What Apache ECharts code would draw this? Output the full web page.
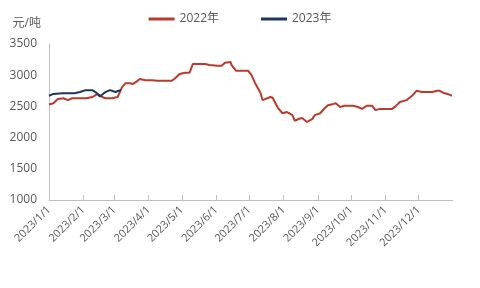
<!DOCTYPE html>
<html>
<head>
<meta charset="utf-8">
<script src="https://cdn.jsdelivr.net/npm/echarts@6/dist/echarts.min.js"></script>
<style>
  html, body { margin: 0; padding: 0; background: #fff; }
  #chart { width: 480px; height: 288px; }
</style>
</head>
<body>
<div id="chart"></div>
<script>
// 2022年 价格（按2023年日期对齐绘制）
const dates2022 = [
  '2023-01-01', '2023-01-05', '2023-01-09', '2023-01-14', '2023-01-18', '2023-01-22', '2023-01-27',
  '2023-02-04', '2023-02-09', '2023-02-14', '2023-02-18', '2023-02-21', '2023-02-27',
  '2023-03-04', '2023-03-08', '2023-03-11', '2023-03-15', '2023-03-18', '2023-03-22', '2023-03-24', '2023-03-29',
  '2023-04-04', '2023-04-09', '2023-04-22', '2023-04-25', '2023-04-29',
  '2023-05-04', '2023-05-08', '2023-05-11', '2023-05-22', '2023-05-26',
  '2023-06-02', '2023-06-06', '2023-06-09', '2023-06-14', '2023-06-15', '2023-06-19', '2023-06-30',
  '2023-07-03', '2023-07-06', '2023-07-11', '2023-07-13', '2023-07-20', '2023-07-22', '2023-07-27', '2023-07-31',
  '2023-08-04', '2023-08-09', '2023-08-11', '2023-08-16', '2023-08-18', '2023-08-22', '2023-08-27', '2023-08-29',
  '2023-09-03', '2023-09-07', '2023-09-10', '2023-09-15', '2023-09-17', '2023-09-21', '2023-09-25',
  '2023-10-03', '2023-10-07', '2023-10-11', '2023-10-15', '2023-10-20', '2023-10-23', '2023-10-27',
  '2023-11-07', '2023-11-10', '2023-11-14', '2023-11-20', '2023-11-25', '2023-11-29',
  '2023-12-04', '2023-12-13', '2023-12-18', '2023-12-20', '2023-12-23', '2023-12-27', '2023-12-31'
]
const values2022 = [
  2530, 2550, 2620, 2630, 2600, 2630, 2630,
  2630, 2650, 2700, 2650, 2630, 2630,
  2650, 2810, 2870, 2870, 2860, 2910, 2940, 2920,
  2920, 2910, 2910, 2950, 3020,
  3040, 3040, 3180, 3180, 3165,
  3150, 3150, 3200, 3210, 3160, 3070, 3070,
  3000, 2880, 2720, 2600, 2650, 2640, 2470, 2390,
  2410, 2360, 2270, 2310, 2310, 2250, 2300, 2360,
  2390, 2470, 2520, 2540, 2550, 2490, 2510,
  2510, 2490, 2460, 2510, 2510, 2440, 2460,
  2460, 2500, 2570, 2600, 2670, 2750,
  2730, 2730, 2750, 2750, 2720, 2700, 2670
]

// 2023年 价格
const dates2023 = [
  '2023-01-01', '2023-01-05', '2023-01-13', '2023-01-24', '2023-01-29',
  '2023-02-03', '2023-02-09', '2023-02-12', '2023-02-16', '2023-02-21', '2023-02-25',
  '2023-03-02', '2023-03-05', '2023-03-07'
]
const values2023 = [
  2670, 2700, 2710, 2710, 2730,
  2760, 2760, 2730, 2660, 2730, 2760,
  2730, 2750, 2760
]

const seriesNames = ['2022年', '2023年']
const yTicks = { min: 1000, max: 3500, interval: 500 }

const chart = echarts.init(document.getElementById('chart'))
const font = 'Open Sans, Noto Sans CJK SC, sans-serif'
const textColor = '#595959'

const zip = (ds, vs) => ds.map((d, i) => [d, vs[i]])

chart.setOption({
  animation: false,
  color: ['#BA3A2E', '#1B365D'],
  textStyle: { fontFamily: font },
  grid: { left: 49, right: 27, top: 44, bottom: 88 },
  legend: {
    top: 8,
    left: 'center',
    itemWidth: 26,
    itemHeight: 3,
    itemGap: 42,
    icon: 'rect',
    textStyle: { color: textColor, fontSize: 12, fontFamily: font },
    data: seriesNames
  },
  xAxis: {
    type: 'time',
    min: '2023-01-01',
    max: '2024-01-01',
    minInterval: 28 * 86400000,
    maxInterval: 31 * 86400000,
    axisLine: { lineStyle: { color: '#bfbfbf' } },
    axisTick: { show: true, inside: true, length: 5, lineStyle: { color: '#bfbfbf' } },
    splitLine: { show: false },
    axisLabel: {
      rotate: 45,
      fontSize: 11,
      color: textColor,
      margin: 8,
      fontFamily: font,
      formatter: function (value) {
        const d = new Date(value)
        if (d.getFullYear() > 2023) return ''
        return d.getFullYear() + '/' + (d.getMonth() + 1) + '/' + d.getDate()
      }
    }
  },
  yAxis: {
    type: 'value',
    min: yTicks.min,
    max: yTicks.max,
    interval: yTicks.interval,
    name: '元/吨',
    nameGap: 14,
    nameTextStyle: { color: textColor, fontSize: 12, align: 'right', padding: [0, 8, 0, 0], fontFamily: font },
    axisLine: { show: true, lineStyle: { color: '#bfbfbf' } },
    axisTick: { show: false },
    splitLine: { show: false },
    axisLabel: {
      color: textColor,
      fontSize: 12,
      margin: 12,
      fontFamily: font,
      formatter: v => String(v)
    }
  },
  series: [
    {
      name: seriesNames[0],
      type: 'line',
      showSymbol: false,
      lineStyle: { width: 2 },
      data: zip(dates2022, values2022)
    },
    {
      name: seriesNames[1],
      type: 'line',
      showSymbol: false,
      lineStyle: { width: 2 },
      data: zip(dates2023, values2023)
    }
  ]
})
</script>
</body>
</html>
